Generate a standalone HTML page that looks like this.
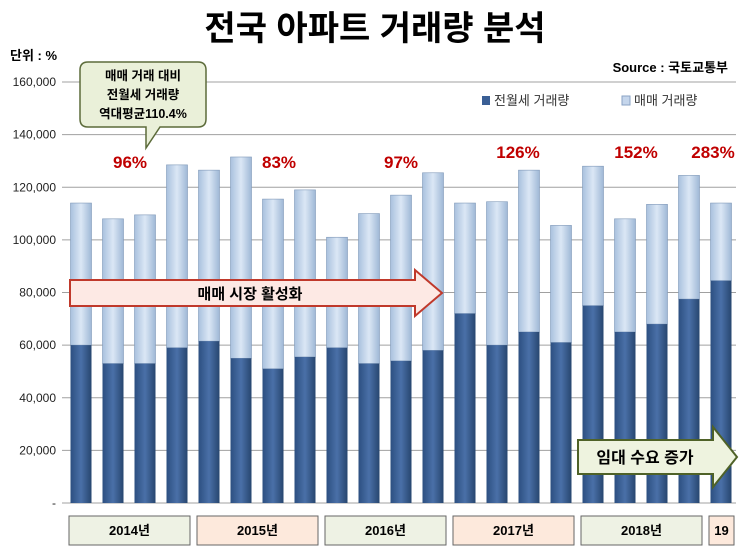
<!DOCTYPE html>
<html><head><meta charset="utf-8"><style>
body{margin:0;background:#fff;font-family:"Liberation Sans","Noto Sans CJK KR",sans-serif;}
svg text{font-family:"Liberation Sans","Noto Sans CJK KR",sans-serif;}
</style></head><body>
<svg id="c" width="740" height="555">
<defs>
<linearGradient id="gj" x1="0" x2="1"><stop offset="0" stop-color="#2c4f80"/><stop offset="0.5" stop-color="#4a70a8"/><stop offset="1" stop-color="#27466f"/></linearGradient>
<linearGradient id="gm" x1="0" x2="1"><stop offset="0" stop-color="#a9c1de"/><stop offset="0.5" stop-color="#dbe7f5"/><stop offset="1" stop-color="#9fb8d6"/></linearGradient>
</defs>
<text x="375" y="40" text-anchor="middle" font-size="34" font-weight="bold">전국 아파트 거래량 분석</text>
<text x="10" y="60" font-size="13" font-weight="bold">단위 : %</text>
<text x="728" y="72" text-anchor="end" font-size="13" font-weight="bold">Source :  국토교통부</text>
<g id="grid"></g>
<g id="bars"></g>
<g id="ylab"></g>
<g>
<rect x="482" y="96" width="8" height="9" fill="#3a5f95"/>
<text x="494" y="105" font-size="13" fill="#333">전월세 거래량</text>
<rect x="622" y="96" width="8" height="9" fill="#c5d6ec" stroke="#8aa3c4"/>
<text x="634" y="105" font-size="13" fill="#333">매매 거래량</text>
</g>
<g>
<path d="M88,62 H198 Q206,62 206,70 V119 Q206,127 198,127 H160 L146,148 L146,127 H88 Q80,127 80,119 V70 Q80,62 88,62 Z" fill="#eaf0d9" stroke="#5c6b3a" stroke-width="1.5"/>
<text x="143" y="80" text-anchor="middle" font-size="12.5" font-weight="bold">매매 거래 대비</text>
<text x="143" y="99" text-anchor="middle" font-size="12.5" font-weight="bold">전월세 거래량</text>
<text x="143" y="118" text-anchor="middle" font-size="12.5" font-weight="bold">역대평균110.4%</text>
</g>
<g fill="#c00000" font-size="17" font-weight="bold">
<text x="130" y="168" text-anchor="middle">96%</text>
<text x="279" y="168" text-anchor="middle">83%</text>
<text x="401" y="168" text-anchor="middle">97%</text>
<text x="518" y="158" text-anchor="middle">126%</text>
<text x="636" y="158" text-anchor="middle">152%</text>
<text x="713" y="158" text-anchor="middle">283%</text>
</g>
<g>
<path d="M70,280 H415 V270 L442,293 L415,316 V306 H70 Z" fill="#fde9e4" stroke="#c0392b" stroke-width="2"/>
<text x="250" y="299" text-anchor="middle" font-size="15" font-weight="bold">매매 시장 활성화</text>
</g>
<g>
<path d="M578,440 H713 V427 L737,457 L713,487 V474 H578 Z" fill="#eef3df" stroke="#4f6228" stroke-width="2"/>
<text x="645" y="463" text-anchor="middle" font-size="16" font-weight="bold">임대 수요 증가</text>
</g>
<g id="years"></g>
</svg>
<script>
const categories=["14Q1","14Q2","14Q3","14Q4","15Q1","15Q2","15Q3","15Q4","16Q1","16Q2","16Q3","16Q4","17Q1","17Q2","17Q3","17Q4","18Q1","18Q2","18Q3","18Q4","19Q1"];
const totals=[114,108,109.5,128.5,126.5,131.5,115.5,119,101,110,117,125.5,114,114.5,126.5,105.5,128,108,113.5,124.5,114];
const jeonse=[60,53,53,59,61.5,55,51,55.5,59,53,54,58,72,60,65,61,75,65,68,77.5,84.5];
const yTicks=[0,20000,40000,60000,80000,100000,120000,140000,160000];
const yTickLabels=["-","20,000","40,000","60,000","80,000","100,000","120,000","140,000","160,000"];
const years=["2014년","2015년","2016년","2017년","2018년","19"];
const yearCounts=[4,4,4,4,4,1];
const NS="http://www.w3.org/2000/svg";
const y0=503,y1=82,x0=65,step=32;
function ys(v){return y0-(v/160000)*(y0-y1);}
function xs(i){return x0+step*(i+0.5);}
function mk(t,a,p){const e=document.createElementNS(NS,t);for(const k in a)e.setAttribute(k,a[k]);p.appendChild(e);return e;}
const grid=document.getElementById('grid'),bars=document.getElementById('bars'),yl=document.getElementById('ylab'),yr=document.getElementById('years');
yTicks.forEach((t,i)=>{
 const l=mk('line',{x1:62,x2:736,y1:ys(t),y2:ys(t),stroke:'#a0a0a0','stroke-width':1},grid);
 
 
 const tx=mk('text',{x:56,y:ys(t)+4,'text-anchor':'end','font-size':12,fill:'#222'},yl);
 tx.textContent=yTickLabels[i];
 
 
});
categories.forEach((c,i)=>{
 const w=21,x=xs(i)-w/2;
 const m=mk('rect',{x:x,y:ys(totals[i]*1000),width:w,height:ys(jeonse[i]*1000)-ys(totals[i]*1000),fill:'url(#gm)',stroke:'#7f98b8','stroke-width':0.6},bars);
 
 
 const j=mk('rect',{x:x,y:ys(jeonse[i]*1000),width:w,height:y0-ys(jeonse[i]*1000),fill:'url(#gj)'},bars);
 
 
});
let idx=0;
years.forEach((yname,k)=>{
 const xa=xs(idx)-step/2+4,xb=xs(idx+yearCounts[k]-1)+step/2-3;
 idx+=yearCounts[k];
 const g=mk('g',{},yr);
 
 
 mk('rect',{x:xa,y:516,width:xb-xa,height:29,fill:k%2?'#fde9dc':'#eef2e4',stroke:'#666','stroke-width':1},g);
 const t=mk('text',{x:(xa+xb)/2,y:535,'text-anchor':'middle','font-size':13,'font-weight':'bold'},g);
 t.textContent=yname;
});
</script>
</body></html>
